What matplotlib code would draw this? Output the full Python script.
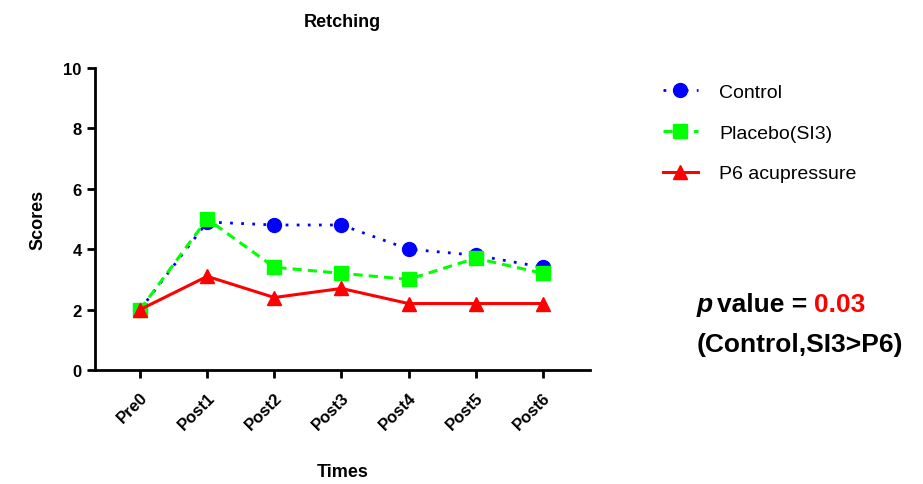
import numpy as np
import matplotlib.pyplot as plt

plt.rcParams['font.family'] = ['Liberation Sans', 'DejaVu Sans']

times = ['Pre0', 'Post1', 'Post2', 'Post3', 'Post4', 'Post5', 'Post6']
control = [2.0, 4.9, 4.8, 4.8, 4.0, 3.8, 3.4]
placebo = [2.0, 5.0, 3.4, 3.2, 3.0, 3.7, 3.2]
p6 = [2.0, 3.1, 2.4, 2.7, 2.2, 2.2, 2.2]

fig = plt.figure(figsize=(9.23, 4.85), dpi=100)
ax = fig.add_axes([0.103, 0.235, 0.536, 0.623])

x = np.arange(len(times))
ax.plot(x, control, color='#0000ff', linestyle=(0, (1, 3)), linewidth=2,
        marker='o', markersize=10, label='Control')
ax.plot(x, placebo, color='#00ff00', linestyle=(0, (3, 2)), linewidth=2.2,
        marker='s', markersize=10, label='Placebo(SI3)')
ax.plot(x, p6, color='#ff0000', linestyle='-', linewidth=2.2,
        marker='^', markersize=10, label='P6 acupressure')

ax.set_xlim(-0.67, 6.7)
ax.set_ylim(0, 10)
ax.set_yticks([0, 2, 4, 6, 8, 10])
ax.set_xticks(x)
ax.set_xticklabels(times, rotation=45, ha='right', rotation_mode='anchor',
                   fontsize=12, fontweight='bold')
for lab in ax.get_yticklabels():
    lab.set_fontsize(12)
    lab.set_fontweight('bold')

ax.spines['top'].set_visible(False)
ax.spines['right'].set_visible(False)
ax.spines['left'].set_linewidth(2)
ax.spines['bottom'].set_linewidth(2)
ax.tick_params(width=2, length=6)
ax.tick_params(axis='x', pad=8)

ax.set_title('Retching', fontsize=13, fontweight='bold', pad=30)
ax.set_xlabel('Times', fontsize=13, fontweight='bold', labelpad=22)
ax.set_ylabel('Scores', fontsize=13, fontweight='bold', labelpad=12)

fig.legend(loc='upper left', bbox_to_anchor=(0.699, 0.863), frameon=False,
           fontsize=14, handlelength=1.8, labelspacing=1.2, handletextpad=1.1)

# p value annotation, pieces placed side by side
renderer = fig.canvas.get_renderer()
x0, y0 = 697 / 923, 1 - 312 / 485
t1 = fig.text(x0, y0, 'p', fontsize=19, style='italic', fontweight='bold')
w1 = t1.get_window_extent(renderer).width / fig.bbox.width
t2 = fig.text(x0 + w1 + 0.004, y0, 'value = ', fontsize=19, fontweight='bold')
w2 = t2.get_window_extent(renderer).width / fig.bbox.width
fig.text(x0 + w1 + 0.004 + w2, y0, '0.03', fontsize=19, fontweight='bold',
         color='#ff0000')
fig.text(x0, 1 - 352 / 485, '(Control,SI3>P6)', fontsize=19, fontweight='bold')

fig.savefig('out.png', dpi=100)
